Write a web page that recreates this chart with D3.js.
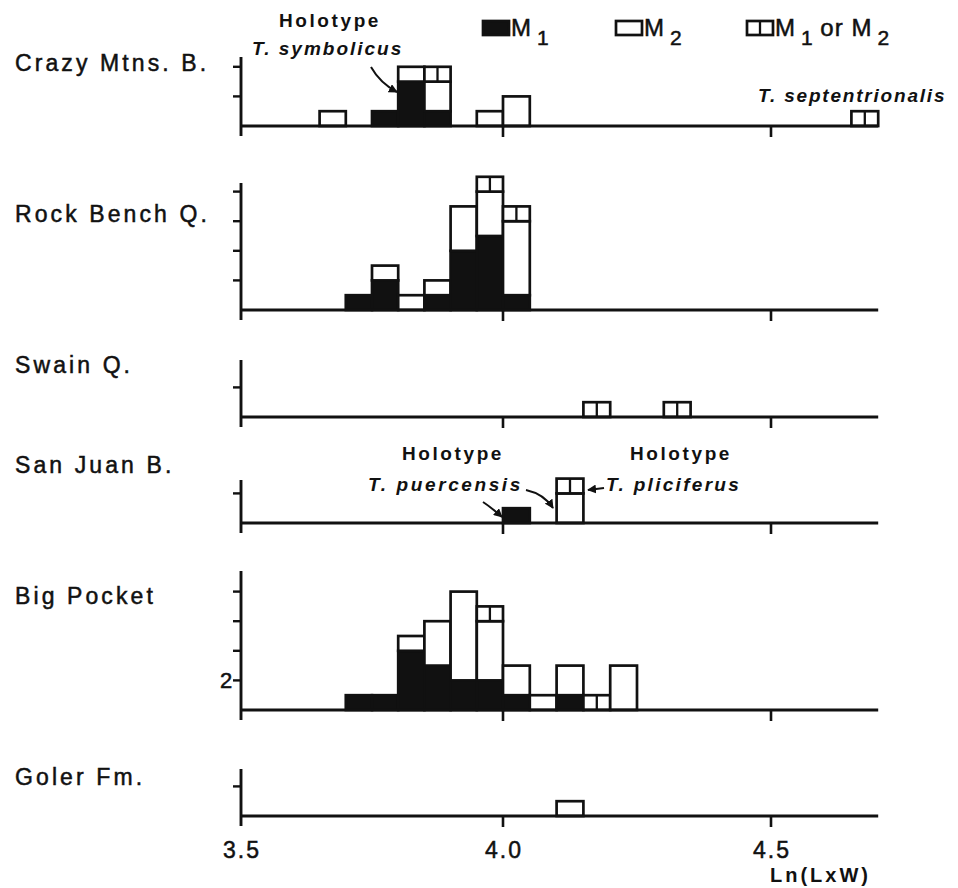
<!DOCTYPE html>
<html>
<head>
<meta charset="utf-8">
<script src="https://cdn.jsdelivr.net/npm/d3@7/dist/d3.min.js"></script>
<style>
  body { margin: 0; background: #fff; }
  svg { display: block; }
  text { font-family: "Liberation Sans", Arial, Helvetica, sans-serif; fill: #111; }
</style>
</head>
<body>
<svg id="chart" width="958" height="888"></svg>
<script>
// ---- data -------------------------------------------------------------
// Histogram bin width on the Ln(L x W) scale
const binWidth = 0.05;
const xTickValues = [3.5, 4.0, 4.5];
const xTickLabels = ["3.5", "4.0", "4.5"];
const xAxisTitle = "Ln(LxW)";

const siteNames = ["Crazy Mtns. B.", "Rock Bench Q.", "Swain Q.", "San Juan B.", "Big Pocket", "Goler Fm."];

// Per site: bin start, count of M1, count of M2, count of "M1 or M2"
const crazyBins   = [3.65, 3.75, 3.80, 3.85, 3.95, 4.00, 4.65];
const crazyM1     = [0, 1, 3, 1, 0, 0, 0];
const crazyM2     = [1, 0, 1, 2, 1, 2, 0];
const crazyEither = [0, 0, 0, 1, 0, 0, 1];

const rockBins    = [3.70, 3.75, 3.80, 3.85, 3.90, 3.95, 4.00];
const rockM1      = [1, 2, 0, 1, 4, 5, 1];
const rockM2      = [0, 1, 1, 1, 3, 3, 5];
const rockEither  = [0, 0, 0, 0, 0, 1, 1];

const swainBins   = [4.15, 4.30];
const swainM1     = [0, 0];
const swainM2     = [0, 0];
const swainEither = [1, 1];

const sanJuanBins   = [4.00, 4.10];
const sanJuanM1     = [1, 0];
const sanJuanM2     = [0, 2];
const sanJuanEither = [0, 1];

const bigPocketBins   = [3.70, 3.75, 3.80, 3.85, 3.90, 3.95, 4.00, 4.05, 4.10, 4.15, 4.20];
const bigPocketM1     = [1, 1, 4, 3, 2, 2, 1, 0, 1, 0, 0];
const bigPocketM2     = [0, 0, 1, 3, 6, 4, 2, 1, 2, 0, 3];
const bigPocketEither = [0, 0, 0, 0, 0, 1, 0, 0, 0, 1, 0];

const golerBins   = [4.10];
const golerM1     = [0];
const golerM2     = [1];
const golerEither = [0];

// y-axis tick values (specimen counts) for each site
const crazyTicks = [2, 4];
const rockTicks = [2, 4, 6, 8];
const swainTicks = [2];
const sanJuanTicks = [2];
const bigPocketTicks = [2, 4, 6, 8];
const golerTicks = [2];
const bigPocketTickLabel = "2";

// legend pieces: [text, isSubscript]
const legendM1 = [["M", false], ["1", true]];
const legendM2 = [["M", false], ["2", true]];
const legendEither = [["M", false], ["1", true], [" or ", false], ["M", false], ["2", true]];

// ---- layout -----------------------------------------------------------
const svg = d3.select("#chart");
const INK = "#111";

const x = d3.scaleLinear().domain([3.5, 4.0, 4.5]).range([241, 503, 771]);
const xEnd = 4.7;
const unitPx = 14.8;

const panels = [
  { name: siteNames[0], bins: crazyBins, m1: crazyM1, m2: crazyM2, either: crazyEither, ticks: crazyTicks, base: 126, top: 57, labelY: 71 },
  { name: siteNames[1], bins: rockBins, m1: rockM1, m2: rockM2, either: rockEither, ticks: rockTicks, base: 310, top: 183, labelY: 222 },
  { name: siteNames[2], bins: swainBins, m1: swainM1, m2: swainM2, either: swainEither, ticks: swainTicks, base: 417, top: 360, labelY: 373 },
  { name: siteNames[3], bins: sanJuanBins, m1: sanJuanM1, m2: sanJuanM2, either: sanJuanEither, ticks: sanJuanTicks, base: 523, top: 480, labelY: 473 },
  { name: siteNames[4], bins: bigPocketBins, m1: bigPocketM1, m2: bigPocketM2, either: bigPocketEither, ticks: bigPocketTicks, base: 710, top: 571, labelY: 604 },
  { name: siteNames[5], bins: golerBins, m1: golerM1, m2: golerM2, either: golerEither, ticks: golerTicks, base: 816, top: 769, labelY: 785 }
];

// Arrowhead marker
svg.append("defs").append("marker")
  .attr("id", "head").attr("viewBox", "0 0 10 10")
  .attr("refX", 9).attr("refY", 5)
  .attr("markerWidth", 9).attr("markerHeight", 9)
  .attr("markerUnits", "userSpaceOnUse")
  .attr("orient", "auto")
  .append("path").attr("d", "M0,0 L10,5 L0,10 Z").attr("fill", INK);

panels.forEach(p => {
  const y = d3.scaleLinear().domain([0, 1]).range([p.base, p.base - unitPx]);
  const g = svg.append("g");

  // site label
  g.append("text").attr("x", 15).attr("y", p.labelY)
    .attr("font-size", 23).attr("letter-spacing", 3.1)
    .attr("stroke", INK).attr("stroke-width", 0.5)
    .text(p.name);

  // bars: M1 (solid), M2 (open), M1 or M2 (open, split)
  p.bins.forEach((b, i) => {
    const x0 = x(b), x1 = x(b + binWidth);
    let cum = 0;
    const parts = [["m1", p.m1[i]], ["m2", p.m2[i]], ["either", p.either[i]]];
    parts.forEach(([kind, n]) => {
      if (!n) return;
      if (kind === "either") {
        for (let k = 0; k < n; k++) {
          const y0 = y(cum + k), y1 = y(cum + k + 1);
          g.append("rect").attr("x", x0).attr("y", y1).attr("width", x1 - x0).attr("height", y0 - y1)
            .attr("fill", "#fff").attr("stroke", INK).attr("stroke-width", 2.7);
          g.append("line").attr("x1", (x0 + x1) / 2).attr("x2", (x0 + x1) / 2)
            .attr("y1", y1).attr("y2", y0).attr("stroke", INK).attr("stroke-width", 2.3);
        }
      } else {
        const y0 = y(cum), y1 = y(cum + n);
        g.append("rect").attr("x", x0).attr("y", y1).attr("width", x1 - x0).attr("height", y0 - y1)
          .attr("fill", kind === "m1" ? INK : "#fff").attr("stroke", INK).attr("stroke-width", 2.7);
      }
      cum += n;
    });
  });

  // x baseline with ticks below it
  g.append("line").attr("x1", x(3.5)).attr("x2", x(xEnd))
    .attr("y1", p.base).attr("y2", p.base).attr("stroke", INK).attr("stroke-width", 2.9);
  xTickValues.slice(1).forEach(v => {
    g.append("line").attr("x1", x(v)).attr("x2", x(v))
      .attr("y1", p.base).attr("y2", p.base + 11).attr("stroke", INK).attr("stroke-width", 2.6);
  });

  // y axis with ticks to the left
  g.append("line").attr("x1", x(3.5)).attr("x2", x(3.5))
    .attr("y1", p.top).attr("y2", p.base + 10).attr("stroke", INK).attr("stroke-width", 2.9);
  p.ticks.forEach(t => {
    g.append("line").attr("x1", x(3.5) - 8).attr("x2", x(3.5))
      .attr("y1", y(t)).attr("y2", y(t)).attr("stroke", INK).attr("stroke-width", 2.4);
  });
});

// count label on the Big Pocket axis
{
  const p = panels[4];
  const y = d3.scaleLinear().domain([0, 1]).range([p.base, p.base - unitPx]);
  svg.append("text").attr("x", 226).attr("y", y(2) + 8).attr("text-anchor", "middle")
    .attr("font-size", 22).attr("stroke", INK).attr("stroke-width", 0.5).text(bigPocketTickLabel);
}

// x tick labels and axis title
xTickValues.forEach((v, i) => {
  svg.append("text").attr("x", x(v)).attr("dx", 1).attr("y", 858).attr("text-anchor", "middle")
    .attr("font-size", 23).attr("letter-spacing", 2).attr("stroke", INK).attr("stroke-width", 0.5)
    .text(xTickLabels[i]);
});
svg.append("text").attr("x", 770).attr("y", 882).attr("font-size", 20)
  .attr("font-weight", "bold").attr("letter-spacing", 3).text(xAxisTitle);

// legend
const legend = svg.append("g");
const legendItems = [
  { x: 483, kind: "m1", label: legendM1 },
  { x: 616, kind: "m2", label: legendM2 },
  { x: 747, kind: "either", label: legendEither }
];
legendItems.forEach(it => {
  legend.append("rect").attr("x", it.x).attr("y", 21).attr("width", 26).attr("height", 14)
    .attr("fill", it.kind === "m1" ? INK : "#fff").attr("stroke", INK).attr("stroke-width", 2.7);
  if (it.kind === "either") {
    legend.append("line").attr("x1", it.x + 13).attr("x2", it.x + 13).attr("y1", 21).attr("y2", 35)
      .attr("stroke", INK).attr("stroke-width", 2.3);
  }
  const t = legend.append("text").attr("x", it.x + 28).attr("y", 36)
    .attr("stroke", INK).attr("stroke-width", 0.5);
  let wasSub = false;
  it.label.forEach(([s, sub]) => {
    const dy = sub === wasSub ? 0 : (sub ? 9 : -9);
    t.append("tspan")
      .attr("dy", dy)
      .attr("dx", sub ? 5 : 0)
      .attr("font-size", sub ? 21 : 24)
      .attr("letter-spacing", sub ? 0 : 1)
      .text(s);
    wasSub = sub;
  });
});

// species annotations
const note = (txt, xx, yy, opts = {}) => svg.append("text").attr("x", xx).attr("y", yy)
  .attr("font-size", opts.size || 19).attr("font-weight", "bold")
  .attr("font-style", opts.italic ? "italic" : "normal")
  .attr("letter-spacing", opts.ls || 2.4).attr("text-anchor", opts.anchor || "start").text(txt);

note("Holotype", 330, 27, { anchor: "middle", ls: 2.6 });
note("T. symbolicus", 252, 55, { italic: true, ls: 2 });
note("T. septentrionalis", 758, 102, { italic: true, ls: 1.8 });
note("Holotype", 453, 460, { anchor: "middle", ls: 2.6 });
note("T. puercensis", 368, 491, { italic: true, ls: 2.6 });
note("Holotype", 681, 460, { anchor: "middle", ls: 2.6 });
note("T. pliciferus", 606, 491, { italic: true, ls: 2.3 });

// pointer arrows to the holotype specimens
const arrow = d => svg.append("path").attr("d", d).attr("fill", "none")
  .attr("stroke", INK).attr("stroke-width", 2).attr("marker-end", "url(#head)");
arrow("M371,67 Q380,83 397,92");
arrow("M483,502 Q492,508 502,517");
arrow("M526,490 Q544,494 553,508");
arrow("M604,488 L588,490");
</script>
</body>
</html>
